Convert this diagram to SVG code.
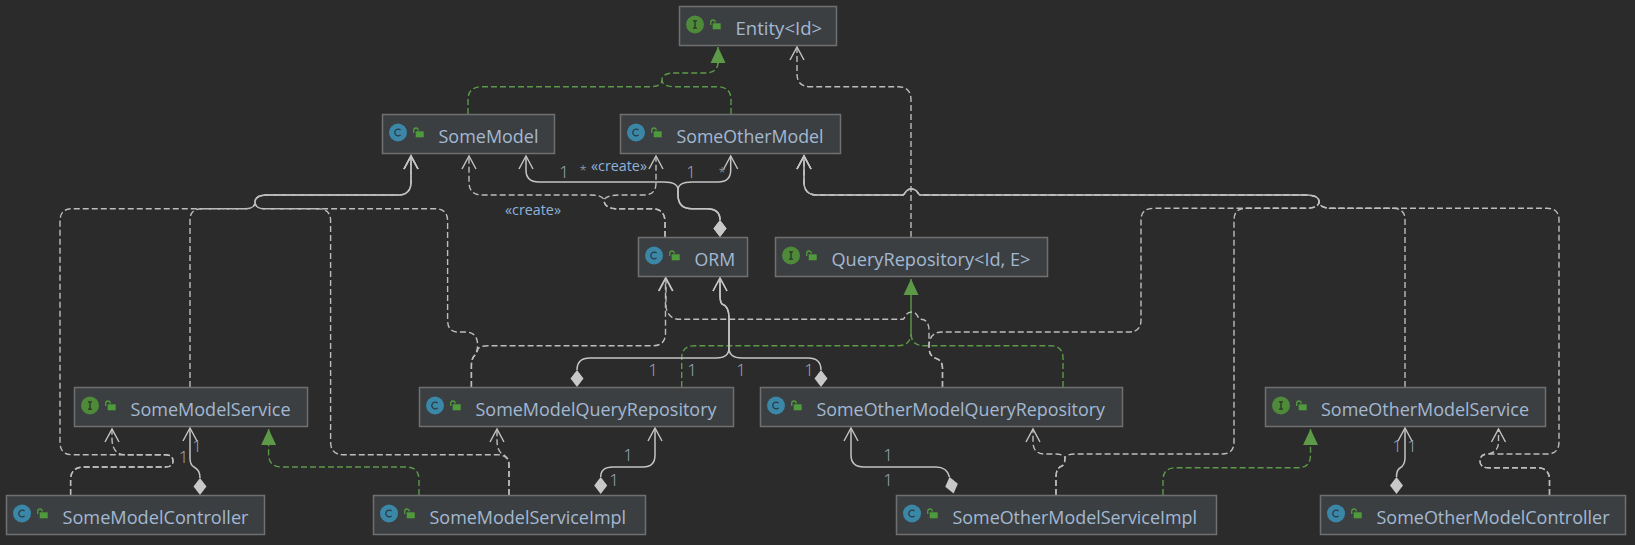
<svg xmlns="http://www.w3.org/2000/svg" width="1635" height="545" viewBox="0 0 1635 545">
<style>
.box{fill:#3c3f41;stroke:#6f6f6f;stroke-width:1.5}
.name{font-family:"Open Sans","Noto Sans","Liberation Sans",sans-serif;font-size:18px;fill:#a3b8d2}
.lab{font-family:"Open Sans","Noto Sans","Liberation Sans",sans-serif;font-size:17px;font-weight:300;fill:#a4b0c0;text-anchor:middle}
.star{font-size:13px}
.st{font-family:"Open Sans","Noto Sans","Liberation Sans",sans-serif;font-size:15px;fill:#8fb2da;text-anchor:middle}
.c{fill:none;stroke-width:1.4}
.d{stroke:#bdbdbd;stroke-dasharray:6 3}
.s{stroke:#c4c4c4;stroke-width:1.5}
.g{stroke:#5c9a48;stroke-dasharray:6 3}
.gs{stroke:#5c9a48}
.ic{fill:#3b87a8}
.ii{fill:#4f8a3b}
.lk{fill:#4f9a3c}
.ls{fill:none;stroke:#4f9a3c;stroke-width:1.3}
.dm{fill:#c8c8c8}
.tri{fill:#5c9a48}
</style>
<defs>
<marker id="open" markerUnits="userSpaceOnUse" markerWidth="18" markerHeight="18" refX="14" refY="8" orient="auto">
<path d="M1,1 L14,8 L1,15" fill="none" stroke="#c4c4c4" stroke-width="1.4"/>
</marker>
<marker id="tri" markerUnits="userSpaceOnUse" markerWidth="20" markerHeight="20" refX="16" refY="8" orient="auto">
<path d="M16,8 L0,0.500 L0,15.500 Z" class="tri"/>
</marker>
<marker id="dia" markerUnits="userSpaceOnUse" markerWidth="20" markerHeight="16" refX="17" refY="7" orient="auto">
<path d="M0,7 L8.500,0.500 L17,7 L8.500,13.500 Z" class="dm"/>
</marker>
<g id="lock"><path class="ls" d="M-5.300,-1 V-3.500 Q-5.300,-6 -3,-6 Q-0.700,-6 -0.700,-3.500"/><rect class="lk" x="-3.300" y="-2.700" width="8" height="6"/></g>
<g id="iconC"><circle class="ic" r="9"/><path d="M2.600,-2.400 A3.400,3.400 0 1 0 2.600,2.400" fill="none" stroke="#2b3b44" stroke-width="1.300"/></g>
<g id="iconI"><circle class="ii" r="9"/><path d="M-2,-3.600 H2 M0,-3.600 V3.600 M-2,3.600 H2" fill="none" stroke="#27361f" stroke-width="1.300"/></g>
</defs>
<rect width="1635" height="545" fill="#2b2b2b"/>

<g id="connectors">
<!-- realizations -->
<path class="c g" d="M468,114 V100 Q468,86.700 482,86.700 H650 Q662,86.700 662,80 Q662,73 675,73 H705 Q718,73 718,62"/>
<path class="c g" d="M731,114 V100 Q731,86.700 717,86.700 H675 Q662,86.700 662,80"/>
<path class="c gs" d="M718,64 V47" marker-end="url(#tri)"/>
<path class="c g" d="M681.700,387 V358 Q681.700,345.700 695,345.700 H898 Q911,345.700 911,333"/>
<path class="c g" d="M1063,387 V358 Q1063,345.700 1050,345.700 H924 Q911,345.700 911,333"/>
<path class="c gs" d="M911,333 V279" marker-end="url(#tri)"/>
<path class="c g" d="M419,495 V480 Q419,467 406,467 H282 Q268.600,467 268.600,454 V443"/>
<path class="c gs" d="M268.600,445 V429" marker-end="url(#tri)"/>
<path class="c g" d="M1163,495 V480 Q1163,467.700 1176,467.700 H1298 Q1310.500,467.700 1310.500,455 V443"/>
<path class="c gs" d="M1310.500,445 V429" marker-end="url(#tri)"/>
<!-- dependencies, left part -->
<path class="c d" d="M70.600,495 V480 Q70.600,467 84,467 H165 Q173,467 173,461 Q173,454.700 165,454.700 H125 Q113,454.700 112,440 V429" marker-end="url(#open)"/>
<path class="c d" d="M70.600,495 V480 Q70.600,467 84,467 H165 Q173,467 173,461 Q173,454.700 165,454.700 H72 Q60,454.700 60,442 V221 Q60,208.700 72,208.700 H245 Q255,208.700 255,202 Q255,195 268,195 H398 Q411,195 411,182 V156" marker-end="url(#open)"/>
<path class="c d" d="M190,387 V220 Q190,208.700 202,208.700 H245 Q255,208.700 255,202 Q255,195 268,195 H398 Q411,195 411,182 V156" marker-end="url(#open)"/>
<path class="c d" d="M509,495 V466 Q509,454.700 497,454.700 H343 Q330.600,454.700 330.600,442 V221 Q330.600,208.700 318,208.700 H265 Q255,208.700 255,202 Q255,195 268,195 H398 Q411,195 411,182 V156" marker-end="url(#open)"/>
<path class="c d" d="M509,495 V464 Q509,458 504,455 Q497,452 497,440 V429" marker-end="url(#open)"/>
<path class="c d" d="M471.400,387 V366 Q471.400,358 475,355 Q477.600,351 477.600,345 Q477.600,332 465,332 H458 Q447.600,332 447.600,320 V221 Q447.600,208.700 435,208.700 H265 Q255,208.700 255,202 Q255,195 268,195 H398 Q411,195 411,182 V156" marker-end="url(#open)"/>
<path class="c d" d="M471.400,387 V366 Q471.400,358 475,355 Q477.600,351 478,349 Q480,345.700 488,345.700 H653 Q665.500,345.700 665.500,333 V278" marker-end="url(#open)"/>
<!-- ORM creates the models -->
<path class="c d" d="M665,237 V222 Q665,208.700 652,208.700 H615 Q604,208 604,200 Q603,195 590,195 H482 Q469,195 469,182 V156" marker-end="url(#open)"/>
<path class="c d" d="M665,237 V222 Q665,208.700 652,208.700 H615 Q604,208 604,200 Q606,195 620,195 H644 Q656,195 656,183 V156" marker-end="url(#open)"/>
<!-- dependencies, right part -->
<path class="c d" d="M942.500,387 V368 Q942.500,360 935,358 Q929,356 929,347 V331 Q929,319.300 921,319.300 H920 C918,319.300 918,312 911.500,312 C905,312 905,319.300 903,319.300 H680 Q668,319.300 666,307 V278" marker-end="url(#open)"/>
<path class="c d" d="M942.500,387 V368 Q942.500,360 935,358 Q929,356 929,347 Q929,332 942,332 H1129 Q1141,332 1141,320 V220 Q1141,208.300 1154,208.300 H1305 Q1319,208.300 1319,201.500 Q1319,195 1305,195 H920 C918,195 918,189 911.500,189 C905,189 905,195 903,195 H817 Q804,195 804,182 V156" marker-end="url(#open)"/>
<path class="c d" d="M1405,387 V220 Q1405,208.300 1393,208.300 H1332 Q1319,208.300 1319,201.500 Q1319,195 1305,195 H920 C918,195 918,189 911.500,189 C905,189 905,195 903,195 H817 Q804,195 804,182 V156" marker-end="url(#open)"/>
<path class="c d" d="M1056,495 V477 Q1056,468 1062,466 Q1065,464 1065,458 Q1066,454 1075,454 H1222 Q1234,454 1234,442 V220 Q1234,208.300 1246,208.300 H1305 Q1319,208.300 1319,201.500 Q1319,195 1305,195 H920 C918,195 918,189 911.500,189 C905,189 905,195 903,195 H817 Q804,195 804,182 V156" marker-end="url(#open)"/>
<path class="c d" d="M1056,495 V477 Q1056,468 1062,466 Q1065,464 1065,458 Q1064,454 1055,454 H1045 Q1033,454 1033,442 V429" marker-end="url(#open)"/>
<path class="c d" d="M1549.500,495 V480 Q1549.500,467.700 1537,467.700 H1488 Q1480,467.700 1480,461 Q1480,454 1488,454 H1547 Q1559,454 1559,442 V220 Q1559,208.300 1547,208.300 H1332 Q1319,208.300 1319,201.500 Q1319,195 1305,195 H920 C918,195 918,189 911.500,189 C905,189 905,195 903,195 H817 Q804,195 804,182 V156" marker-end="url(#open)"/>
<path class="c d" d="M1549.500,495 V480 Q1549.500,467.700 1537,467.700 H1488 Q1480,467.700 1480,461 Q1480,454 1488,454 Q1498.500,452 1498.500,442 V429" marker-end="url(#open)"/>
<path class="c d" d="M911,237 V100 Q911,86.700 898,86.700 H810 Q797,86.700 797,74 V47" marker-end="url(#open)"/>
<!-- compositions -->
<path class="c s" d="M720,220 Q720,208.700 707,208.700 H692 Q678,208.700 678,195 V190 Q678,182 664,182 H539 Q526,182 526,170 V156" marker-start="url(#dia)" marker-end="url(#open)"/>
<path class="c s" d="M720,220 Q720,208.700 707,208.700 H692 Q678,208.700 678,195 V190 Q678,182 692,182 H718 Q730.700,182 730.700,170 V156" marker-start="url(#dia)" marker-end="url(#open)"/>
<path class="c s" d="M577,370 Q577,358 590,358 H716 Q729,358 729,348 V318 Q729,306 722,304 Q720,302 720,295 V278" marker-start="url(#dia)" marker-end="url(#open)"/>
<path class="c s" d="M821,370 Q821,358 808,358 H742 Q729,358 729,348 V318 Q729,306 722,304 Q720,302 720,295 V278" marker-start="url(#dia)" marker-end="url(#open)"/>
<path class="c s" d="M200,478 Q200,470 194,467 Q190,465 190,458 V428" marker-start="url(#dia)" marker-end="url(#open)"/>
<path class="c s" d="M600.700,477 Q600.700,467 613,467 H643 Q655,467 655,455 V428" marker-start="url(#dia)" marker-end="url(#open)"/>
<path class="c s" d="M949.500,477 Q947,467 936,467 H864 Q851,467 851,455 V428" marker-start="url(#dia)" marker-end="url(#open)"/>
<path class="c s" d="M1396.500,477 Q1396.500,470 1400,468 Q1405,465 1405,458 V428" marker-start="url(#dia)" marker-end="url(#open)"/>
</g>

<g id="labels">
<text class="lab" x="564" y="178">1</text>
<text class="lab star" x="583" y="175">*</text>
<text class="st" x="619" y="171" textLength="56" lengthAdjust="spacingAndGlyphs">«create»</text>
<text class="st" x="533" y="215" textLength="56" lengthAdjust="spacingAndGlyphs">«create»</text>
<text class="lab" x="691" y="178">1</text>
<text class="lab star" x="722" y="177">*</text>
<text class="lab" x="653" y="376">1</text>
<text class="lab" x="692" y="376">1</text>
<text class="lab" x="741" y="376">1</text>
<text class="lab" x="809" y="376">1</text>
<text class="lab" x="183.500" y="463">1</text>
<text class="lab" x="197" y="452">1</text>
<text class="lab" x="628" y="461">1</text>
<text class="lab" x="614" y="486">1</text>
<text class="lab" x="888" y="461">1</text>
<text class="lab" x="888" y="486">1</text>
<text class="lab" x="1397" y="452">1</text>
<text class="lab" x="1412" y="452">1</text>
</g>

<g id="Entity"><rect class="box" x="679.500" y="6.500" width="157" height="39"/><use href="#iconI" x="695" y="24.500"/><use href="#lock" x="716" y="26"/><text class="name" x="735.500" y="35" textLength="86.700" lengthAdjust="spacingAndGlyphs">Entity&lt;Id&gt;</text></g>
<g id="SomeModel"><rect class="box" x="382.500" y="114.500" width="172" height="39"/><use href="#iconC" x="398" y="132.500"/><use href="#lock" x="419" y="134"/><text class="name" x="438.500" y="143" textLength="100" lengthAdjust="spacingAndGlyphs">SomeModel</text></g>
<g id="SomeOtherModel"><rect class="box" x="620.500" y="114.500" width="220" height="39"/><use href="#iconC" x="636" y="132.500"/><use href="#lock" x="657" y="134"/><text class="name" x="676.500" y="143" textLength="147" lengthAdjust="spacingAndGlyphs">SomeOtherModel</text></g>
<g id="ORM"><rect class="box" x="638.500" y="237.500" width="109" height="39"/><use href="#iconC" x="654" y="255.500"/><use href="#lock" x="675" y="257"/><text class="name" x="694.500" y="266" textLength="40.700" lengthAdjust="spacingAndGlyphs">ORM</text></g>
<g id="QueryRepository"><rect class="box" x="775.500" y="237.500" width="272" height="39"/><use href="#iconI" x="791" y="255.500"/><use href="#lock" x="812" y="257"/><text class="name" x="831.500" y="266" textLength="199" lengthAdjust="spacingAndGlyphs">QueryRepository&lt;Id, E&gt;</text></g>
<g id="SomeModelService"><rect class="box" x="74.500" y="387.500" width="233" height="39"/><use href="#iconI" x="90" y="405.500"/><use href="#lock" x="111" y="407"/><text class="name" x="130.500" y="416" textLength="160" lengthAdjust="spacingAndGlyphs">SomeModelService</text></g>
<g id="SomeModelQueryRepository"><rect class="box" x="419.500" y="387.500" width="314" height="39"/><use href="#iconC" x="435" y="405.500"/><use href="#lock" x="456" y="407"/><text class="name" x="475.500" y="416" textLength="241" lengthAdjust="spacingAndGlyphs">SomeModelQueryRepository</text></g>
<g id="SomeOtherModelQueryRepository"><rect class="box" x="760.500" y="387.500" width="362" height="39"/><use href="#iconC" x="776" y="405.500"/><use href="#lock" x="797" y="407"/><text class="name" x="816.500" y="416" textLength="288.500" lengthAdjust="spacingAndGlyphs">SomeOtherModelQueryRepository</text></g>
<g id="SomeOtherModelService"><rect class="box" x="1265.500" y="387.500" width="280" height="39"/><use href="#iconI" x="1281" y="405.500"/><use href="#lock" x="1302" y="407"/><text class="name" x="1321" y="416" textLength="208" lengthAdjust="spacingAndGlyphs">SomeOtherModelService</text></g>
<g id="SomeModelController"><rect class="box" x="6.500" y="495.500" width="258" height="39"/><use href="#iconC" x="22" y="513.500"/><use href="#lock" x="43" y="515"/><text class="name" x="62.500" y="524" textLength="186" lengthAdjust="spacingAndGlyphs">SomeModelController</text></g>
<g id="SomeModelServiceImpl"><rect class="box" x="373.500" y="495.500" width="272" height="39"/><use href="#iconC" x="389" y="513.500"/><use href="#lock" x="410" y="515"/><text class="name" x="429.500" y="524" textLength="196.600" lengthAdjust="spacingAndGlyphs">SomeModelServiceImpl</text></g>
<g id="SomeOtherModelServiceImpl"><rect class="box" x="896.500" y="495.500" width="320" height="39"/><use href="#iconC" x="912" y="513.500"/><use href="#lock" x="933" y="515"/><text class="name" x="952.500" y="524" textLength="244.500" lengthAdjust="spacingAndGlyphs">SomeOtherModelServiceImpl</text></g>
<g id="SomeOtherModelController"><rect class="box" x="1320.500" y="495.500" width="305" height="39"/><use href="#iconC" x="1336" y="513.500"/><use href="#lock" x="1357" y="515"/><text class="name" x="1376.500" y="524" textLength="233" lengthAdjust="spacingAndGlyphs">SomeOtherModelController</text></g>
</svg>
